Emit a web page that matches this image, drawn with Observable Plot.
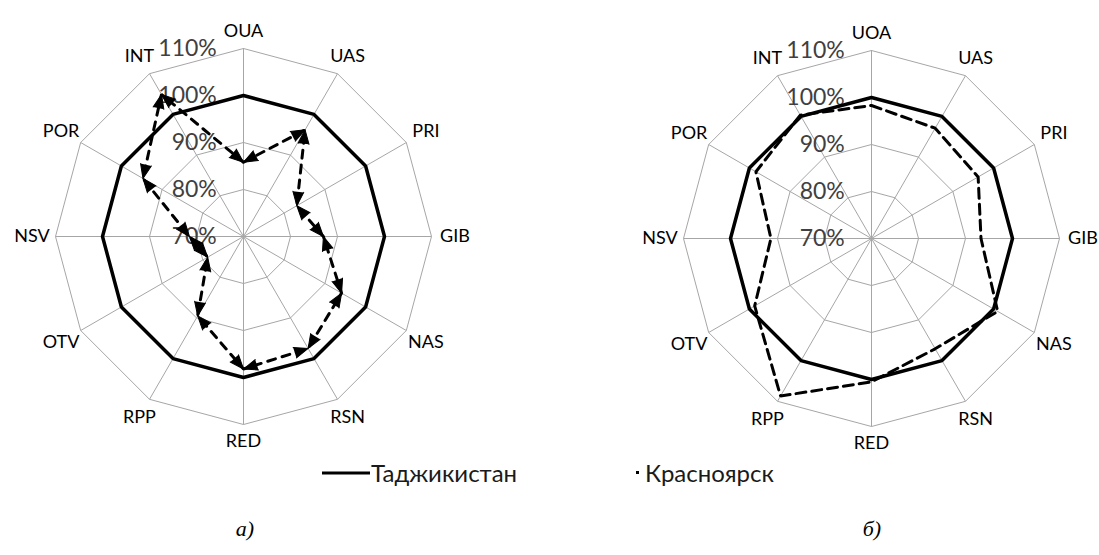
<!DOCTYPE html>
<html>
<head>
<meta charset="utf-8">
<script src="https://cdn.jsdelivr.net/npm/d3@7"></script>
<script src="https://cdn.jsdelivr.net/npm/@observablehq/plot@0.6"></script>
<style>
  html, body { margin: 0; padding: 0; background: #fff; }
  #root { position: relative; width: 1099px; height: 555px; overflow: hidden; background: #fff; font-family: Lato, "Open Sans", sans-serif; }
  .chart { position: absolute; }
  .leg { position: absolute; font-family: Lato, sans-serif; font-size: 24px; color: #1a1a1a; line-height: 1; white-space: nowrap; }
  .cap { position: absolute; font-family: "Liberation Serif", "DejaVu Serif", serif; font-style: italic; font-size: 22px; color: #000; transform: translateX(-50%); }
</style>
</head>
<body>
<div id="root"></div>
<script>
// ---- data ----
const categoriesA = ["OUA","UAS","PRI","GIB","NAS","RSN","RED","RPP","OTV","NSV","POR","INT"];
const categoriesB = ["UOA","UAS","PRI","GIB","NAS","RSN","RED","RPP","OTV","NSV","POR","INT"];
const tajikistanA = [100,100,100,100,100,100,100,100,100,100,100,100];
const seriesA     = [85.8,96.2,83.1,87.0,94.1,97.5,98.2,89.5,78.8,81.5,94.7,104.9];
const tajikistanB = [100,100,100,100,100,100,100,100,100,100,100,100];
const krasnoyarskB = [98.3,97.1,96.2,93.3,101.0,97.1,100.5,108.7,98.7,91.4,98.4,100.3];
const ringTicks = [70,80,90,100,110];
const tickLabels = ["70%","80%","90%","100%","110%"];
const legendLabels = ["Таджикистан","Красноярск"];
const captions = ["а)","б)"];

const MIN = 70, MAX = 110;
const rad = v => (v - MIN) / (MAX - MIN);

function polar(values) {
  const n = values.length;
  return values.map((v, i) => {
    const a = 2 * Math.PI * i / n;
    return {x: rad(v) * Math.sin(a), y: rad(v) * Math.cos(a), i};
  });
}
function closed(values) { const p = polar(values); p.push({...p[0]}); return p; }

function arrowHeads(values) {
  const p = polar(values);
  const n = p.length, out = [];
  for (let i = 0; i < n; i++) {
    const a = p[i], b = p[(i + 1) % n];
    const ang = Math.atan2(b.x - a.x, b.y - a.y) * 180 / Math.PI;
    out.push({x: b.x, y: b.y, rotate: ang});
    out.push({x: a.x, y: a.y, rotate: ang + 180});
  }
  return out;
}

function radar(categories, solid, dashed, arrows) {
  const n = categories.length;
  const rings = ringTicks.slice(1).flatMap(t => closed(new Array(n).fill(t)).map(d => ({...d, t})));
  const spokes = polar(new Array(n).fill(MAX));
  const labels = categories.map((c, i) => {
    const a = 2 * Math.PI * i / n;
    const r = 1.09 + 0.035 * Math.abs(Math.sin(a));
    return {x: r * Math.sin(a), y: r * Math.cos(a), c};
  });
  const ticks = ringTicks.map((t, k) => ({x: -0.142, y: rad(t), label: tickLabels[k]}));
  const marks = [
    Plot.line(rings, {x: "x", y: "y", z: "t", stroke: "#a6a6a6", strokeWidth: 1}),
    Plot.link(spokes, {x1: () => 0, y1: () => 0, x2: "x", y2: "y", stroke: "#a6a6a6", strokeWidth: 1}),
    Plot.text(ticks, {x: "x", y: "y", text: "label", textAnchor: "end", fontSize: 23, fill: "#404040", fontFamily: "Lato"}),
    Plot.text(labels, {x: "x", y: "y", text: "c", fontSize: 18, fill: "#000", fontFamily: "Lato"}),
    Plot.line(closed(solid), {x: "x", y: "y", stroke: "#000", strokeWidth: 3.5, strokeLinejoin: "miter"}),
    Plot.line(closed(dashed), {x: "x", y: "y", stroke: "#000", strokeWidth: 3, strokeDasharray: arrows ? "8,7" : "10,6", strokeLinejoin: "miter"})
  ];
  if (arrows) {
    marks.push(Plot.vector(arrowHeads(dashed), {x: "x", y: "y", rotate: "rotate", length: 14, r: 5.5, anchor: "end", shape: "spike", fill: "#000", stroke: "#000", strokeWidth: 1}));
  }
  return Plot.plot({
    width: 470, height: 470, margin: 0,
    x: {domain: [-1.25, 1.25], axis: null},
    y: {domain: [-1.25, 1.25], axis: null},
    marks
  });
}

const root = document.getElementById("root");
const c1 = radar(categoriesA, tajikistanA, seriesA, true);
c1.classList.add("chart"); c1.style.left = "8px"; c1.style.top = "1px";
root.appendChild(c1);
const c2 = radar(categoriesB, tajikistanB, krasnoyarskB, false);
c2.classList.add("chart"); c2.style.left = "636px"; c2.style.top = "3px";
root.appendChild(c2);

// legend
const l1 = document.createElement("div");
l1.className = "leg"; l1.style.left = "322px"; l1.style.top = "458px";
l1.innerHTML = `<svg width="48" height="24" style="vertical-align:middle"><line x1="0" x2="48" y1="12" y2="12" stroke="#000" stroke-width="3"/></svg><span style="vertical-align:middle;margin-left:1px">${legendLabels[0]}</span>`;
root.appendChild(l1);
const l2 = document.createElement("div");
l2.className = "leg"; l2.style.left = "635px"; l2.style.top = "458px";
l2.innerHTML = `<svg width="6" height="24" style="vertical-align:middle"><rect x="1" y="10" width="3" height="3" fill="#000"/></svg><span style="vertical-align:middle;margin-left:4px">${legendLabels[1]}</span>`;
root.appendChild(l2);

// captions
[[245, captions[0]], [872, captions[1]]].forEach(([x, t]) => {
  const d = document.createElement("div");
  d.className = "cap"; d.style.left = x + "px"; d.style.top = "516px"; d.textContent = t;
  root.appendChild(d);
});
</script>
</body>
</html>
